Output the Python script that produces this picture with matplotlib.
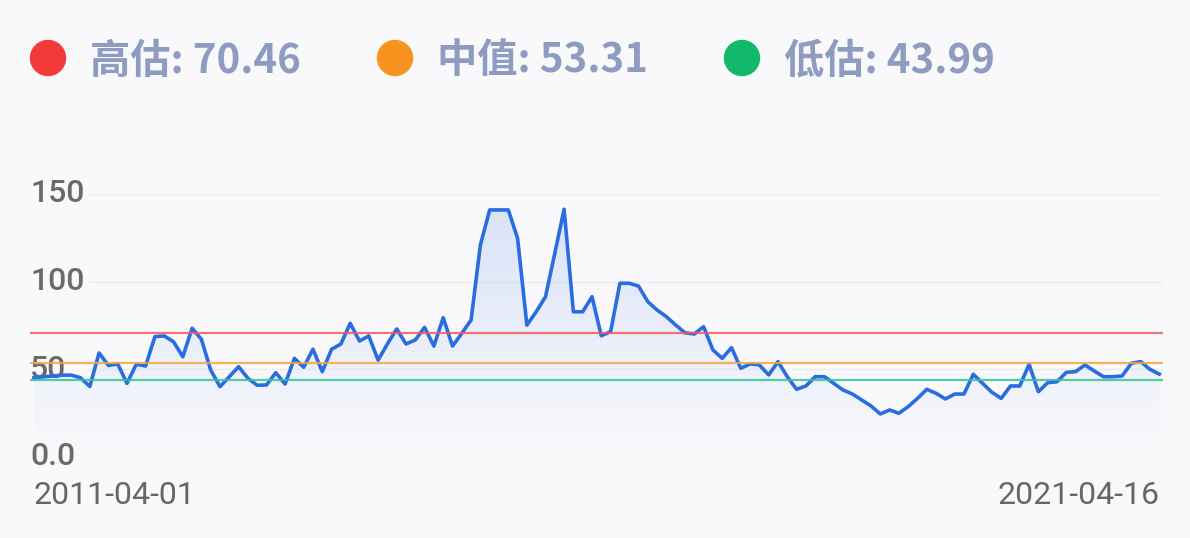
import matplotlib
matplotlib.use("Agg")
import matplotlib.pyplot as plt
import matplotlib.transforms as mtransforms
from matplotlib.patches import Circle
import numpy as np

plt.rcParams['font.family'] = ['Noto Sans CJK SC', 'DejaVu Sans']

# data (roughly monthly PE points)
start_label = "2011-04-01"
end_label = "2021-04-16"
pe = [45.0, 45.5, 46.0, 46.5, 46.5, 45.0, 40.0, 59.2, 52.0, 52.9,
      41.8, 52.7, 51.7, 68.5, 68.9, 65.6, 57.0, 73.3, 67.0, 49.4,
      39.9, 45.6, 51.3, 44.7, 40.7, 40.9, 47.9, 41.4, 56.1, 51.0,
      61.3, 48.5, 61.3, 64.3, 76.1, 66.0, 68.9, 55.1, 64.3, 72.9,
      64.3, 66.6, 73.8, 63.1, 79.3, 63.1, 70.4, 78.0, 120.9, 140.9,
      140.9, 140.9, 124.7, 75.1, 82.7, 91.3, 116.1, 141.3, 82.7, 82.7,
      91.3, 69.0, 71.3, 99.0, 99.0, 97.4, 88.5, 83.7, 79.9, 75.1,
      70.7, 70.0, 74.2, 60.9, 56.1, 62.2, 50.4, 52.9, 52.3, 46.6,
      54.2, 45.6, 38.4, 40.3, 45.6, 45.6, 41.8, 38.0, 35.7, 32.3,
      28.9, 24.3, 26.6, 24.7, 28.5, 33.2, 38.4, 36.1, 32.9, 35.7,
      35.7, 47.0, 41.8, 36.7, 33.2, 40.3, 40.3, 52.7, 37.0, 42.2,
      42.7, 48.1, 48.5, 52.3, 48.9, 45.6, 45.6, 46.0, 53.3, 54.2,
      49.8, 47.1]

band_names = ["高估", "中值", "低估"]
band_values = [70.46, 53.31, 43.99]
band_colors = ["#f25b5b", "#f6a540", "#35c29a"]
dot_colors = ["#f23a3a", "#f7931e", "#12b86b"]

y_ticks = [0, 50, 100, 150]
y_tick_labels = ["0.0", "50", "100", "150"]

bg = "#f9f9fb"
W, H = 1190, 538

fig = plt.figure(figsize=(W / 100, H / 100), dpi=100)
fig.patch.set_facecolor(bg)

ax = fig.add_axes([30 / W, (H - 456.5) / H, 1133 / W, 262.5 / H])
ax.set_facecolor(bg)
x = np.arange(len(pe))
for s in ax.spines.values():
    s.set_visible(False)
ax.set_xticks([])
ax.set_yticks([])

# grid lines start right of the tick labels
for t in y_ticks:
    ax.axhline(t, xmin=0.045 if t == 0 else 0.052, color="#ececf0", lw=1, zorder=0)

# gradient area under the line
poly = ax.fill_between(x, pe, 0, facecolor="none", edgecolor="none")
grad = np.zeros((256, 1, 4))
grad[:, 0, 0] = 0.24
grad[:, 0, 1] = 0.47
grad[:, 0, 2] = 0.90
grad[:, 0, 3] = np.linspace(0.0, 0.17, 256)
im = ax.imshow(grad, origin="lower", aspect="auto",
               extent=[x[0], x[-1], 0, max(pe)], zorder=1)
im.set_clip_path(poly.get_paths()[0], transform=ax.transData)
ax.set_xlim(-0.43, len(pe) - 1 + 0.4)
ax.set_ylim(0, 150)

ax.plot(x, pe, color="#2a6de0", lw=2.6, zorder=3)

for v, c in zip(band_values, band_colors):
    ax.axhline(v, color=c, lw=1.6, alpha=0.85, zorder=4)

trans = mtransforms.blended_transform_factory(ax.transAxes, ax.transData)
for t, lab in zip(y_ticks, y_tick_labels):
    ax.text(0.0, t, lab, transform=trans, ha="left", va="center",
            fontsize=23, family=["Roboto", "DejaVu Sans"], fontweight="medium",
            color="#6a6a6a", zorder=2)

xtrans = mtransforms.blended_transform_factory(ax.transData, ax.transAxes)
ax.text(x[0], -0.147, start_label, transform=xtrans, ha="left", va="center",
        fontsize=23, family=["Roboto", "DejaVu Sans"], color="#666666")
ax.text(x[-1], -0.147, end_label, transform=xtrans, ha="right", va="center",
        fontsize=23, family=["Roboto", "DejaVu Sans"], color="#666666")

# legend row on top
lax = fig.add_axes([0, 0, 1, 1])
lax.set_xlim(0, W)
lax.set_ylim(H, 0)
lax.axis("off")
for i, (name, val, c) in enumerate(zip(band_names, band_values, dot_colors)):
    cx = 48 + 347 * i
    lax.add_patch(Circle((cx, 58), 17.5, color=c))
    lax.text(cx + 42, 61, f"{name}: {val:.2f}", ha="left", va="center",
             fontsize=29, fontweight="bold", color="#8e9cc2")

fig.savefig("out.png", dpi=100, facecolor=fig.get_facecolor())
